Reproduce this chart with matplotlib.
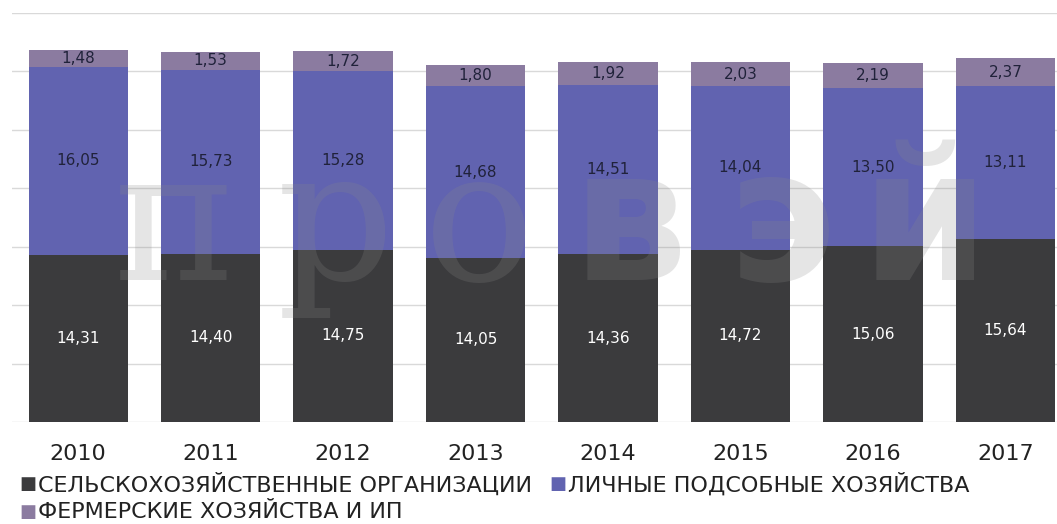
import matplotlib
matplotlib.use("Agg")
import matplotlib.pyplot as plt
import numpy as np

years = ["2010", "2011", "2012", "2013", "2014", "2015", "2016", "2017"]
org = [14.31, 14.40, 14.75, 14.05, 14.36, 14.72, 15.06, 15.64]
lph = [16.05, 15.73, 15.28, 14.68, 14.51, 14.04, 13.50, 13.11]
farm = [1.48, 1.53, 1.72, 1.80, 1.92, 2.03, 2.19, 2.37]
series_names = ["СЕЛЬСКОХОЗЯЙСТВЕННЫЕ ОРГАНИЗАЦИИ", "ЛИЧНЫЕ ПОДСОБНЫЕ ХОЗЯЙСТВА",
                "ФЕРМЕРСКИЕ ХОЗЯЙСТВА И ИП"]
colors = ["#3b3b3d", "#6163b0", "#8b7ba0"]
label_colors = ["#ffffff", "#20223a", "#20223a"]
watermark = "провэй"

plt.rcParams['font.family'] = ['DejaVu Sans']
fig = plt.figure(figsize=(10.57, 5.24), dpi=100)
W, H = 1057, 524
ax = fig.add_axes([12 / W, 102 / H, (1057 - 12) / W, 409 / H])

x = np.arange(len(years))
bw = 0.75
bottom = np.zeros(len(years))
for vals, c, lc in zip([org, lph, farm], colors, label_colors):
    vals = np.array(vals)
    ax.bar(x, vals, bw, bottom=bottom, color=c, zorder=2)
    for xi, b, v in zip(x, bottom, vals):
        ax.text(xi, b + v / 2, f"{v:.2f}".replace(".", ","), ha="center", va="center",
                fontsize=11, color=lc, zorder=4)
    bottom += vals

ax.set_ylim(0, 35)
ax.set_xlim(-0.5, 7.39)
ax.set_yticks(np.arange(0, 36, 5))
ax.yaxis.grid(True, color="#d9d9d9", linewidth=1, zorder=0)
ax.tick_params(axis="y", left=False, labelleft=False)
ax.tick_params(axis="x", bottom=False, labelsize=16, colors="#222222", pad=12)
ax.set_xticks(x)
ax.set_xticklabels(years)
for s in ax.spines.values():
    s.set_visible(False)

# watermark, letter by letter (wide spacing as in the reference)
wm_centers = [175, 335, 479, 630, 782, 925]
for i, (ch, cx) in enumerate(zip(watermark, wm_centers)):
    fig.text(cx / W, 1 - 280 / H, ch, fontsize=132,
             family="DejaVu Serif" if i < 3 else "DejaVu Sans",
             weight="normal" if i < 3 else "bold",
             color="#8a8a8a", alpha=0.22, ha="center", va="baseline", zorder=3)

# legend
fs = 16
fig.text(19 / W, 1 - 484 / H, "■", color=colors[0], fontsize=13, va="center")
fig.text(38 / W, 1 - 484 / H, series_names[0], color="#222222", fontsize=fs, va="center")
fig.text(549 / W, 1 - 484 / H, "■", color=colors[1], fontsize=13, va="center")
fig.text(568 / W, 1 - 484 / H, series_names[1], color="#222222", fontsize=fs, va="center")
fig.text(19 / W, 1 - 512 / H, "■", color=colors[2], fontsize=13, va="center")
fig.text(38 / W, 1 - 512 / H, series_names[2], color="#222222", fontsize=fs, va="center")

fig.savefig("out.png", dpi=100)
